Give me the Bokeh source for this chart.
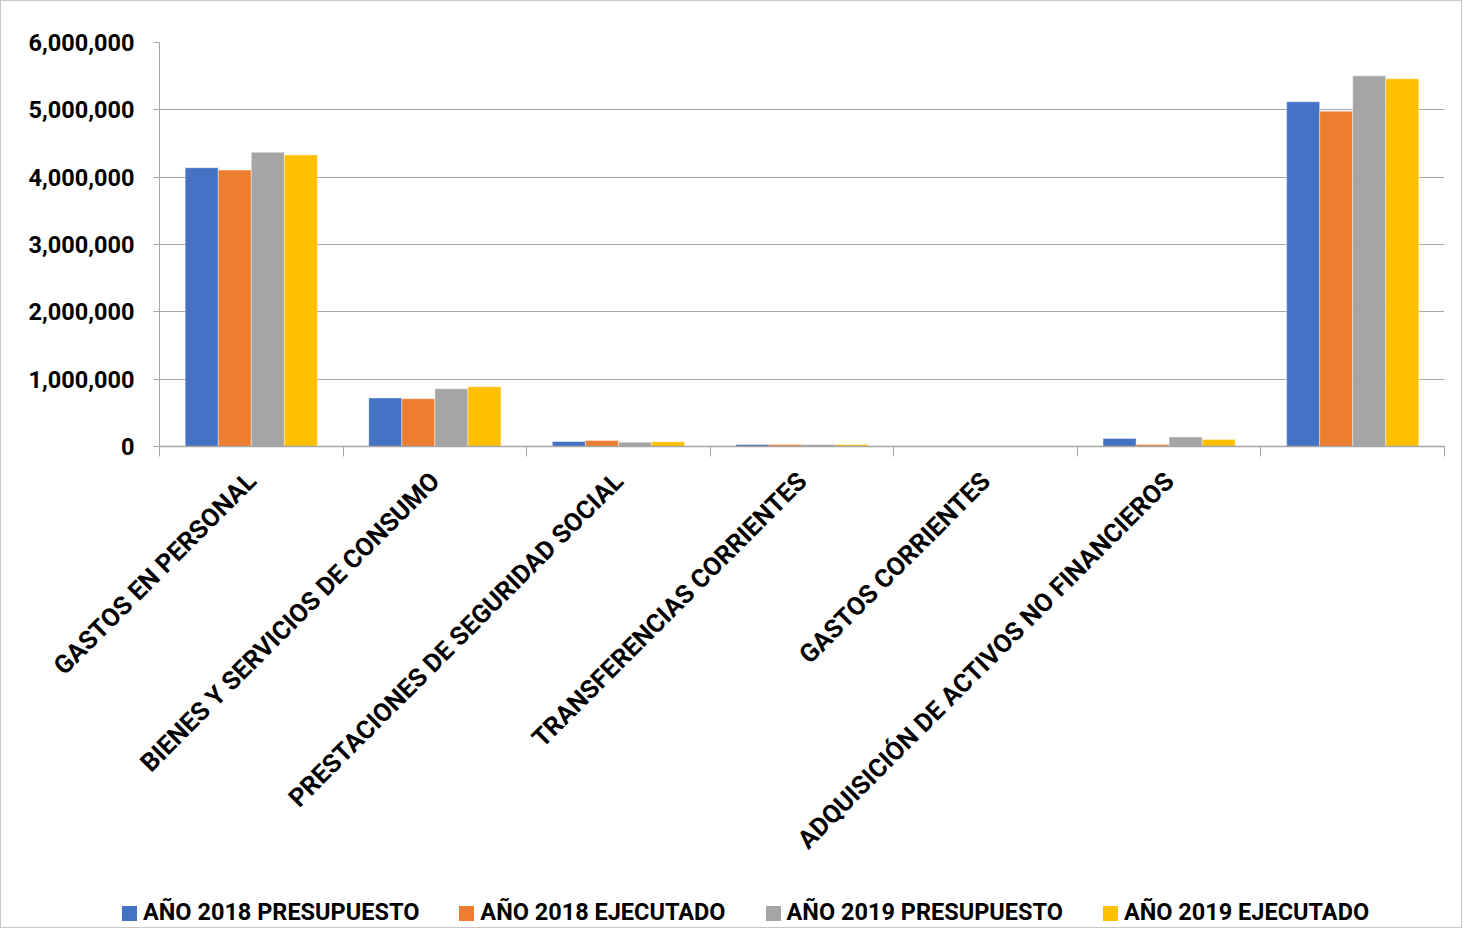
import numpy as np
from bokeh.plotting import figure
from bokeh.layouts import column
from bokeh.models import (ColumnDataSource, Range1d, FixedTicker, NumeralTickFormatter, Div)
from bokeh.transform import dodge
from bokeh.embed import file_html
from bokeh.resources import INLINE

categories = ["GASTOS EN PERSONAL", "BIENES Y SERVICIOS DE CONSUMO",
              "PRESTACIONES DE SEGURIDAD SOCIAL", "TRANSFERENCIAS CORRIENTES",
              "GASTOS CORRIENTES", "ADQUISICIÓN DE ACTIVOS NO FINANCIEROS", ""]
series_names = ["AÑO 2018 PRESUPUESTO", "AÑO 2018 EJECUTADO",
                "AÑO 2019 PRESUPUESTO", "AÑO 2019 EJECUTADO"]
p2018 = [4140000, 720000, 74000, 30000, 0, 119000, 5120000]
e2018 = [4105000, 710000, 89000, 30000, 0, 30000, 4980000]
p2019 = [4370000, 857000, 64000, 30000, 0, 140000, 5505000]
e2019 = [4330000, 887000, 70000, 30000, 0, 104000, 5460000]
y_ticks = [0, 1000000, 2000000, 3000000, 4000000, 5000000, 6000000]

colors = ["#4472C4", "#ED7D31", "#A5A5A5", "#FFC000"]
FONT = "Roboto"
FS = "23.5px"
FSX = "25.5px"

centers = list(np.arange(len(categories)) + 0.5)
bounds = list(np.arange(len(categories) + 1).astype(float))
src = ColumnDataSource(dict(x=centers, s0=p2018, s1=e2018, s2=p2019, s3=e2019))

p = figure(frame_width=1285, frame_height=404, output_backend="svg", toolbar_location=None,
           x_range=Range1d(0, len(categories)), y_range=Range1d(0, 6000000),
           min_border_left=158, min_border_right=17, min_border_top=41,
           min_border_bottom=0)
p.outline_line_color = None

offsets = [-0.27, -0.09, 0.09, 0.27]
for i, key in enumerate(["s0", "s1", "s2", "s3"]):
    p.vbar(x=dodge("x", offsets[i], range=p.x_range), top=key, width=0.18,
           source=src, fill_color=colors[i], line_color="white", line_alpha=0.4,
           line_width=1)

# x axis
xa = p.xaxis[0]
xa.ticker = FixedTicker(ticks=centers, minor_ticks=bounds)
xa.major_label_overrides = {c: name for c, name in zip(centers, categories)}
xa.major_tick_out = 0
xa.major_tick_in = 0
xa.minor_tick_out = 10
xa.minor_tick_in = 0
xa.minor_tick_line_color = "#a6a6a6"
xa.axis_line_color = "#a6a6a6"
xa.axis_line_width = 1.5
xa.major_label_orientation = np.pi / 4
xa.major_label_text_font = FONT
xa.major_label_text_font_style = "bold"
xa.major_label_text_font_size = FSX
xa.major_label_text_color = "black"
xa.major_label_standoff = 20

# y axis
ya = p.yaxis[0]
ya.ticker = FixedTicker(ticks=y_ticks)
ya.formatter = NumeralTickFormatter(format="0,0")
ya.major_tick_out = 6
ya.major_tick_in = 0
ya.minor_tick_line_color = None
ya.major_tick_line_color = "#a6a6a6"
ya.axis_line_color = "#a6a6a6"
ya.major_label_text_font = FONT
ya.major_label_text_font_style = "bold"
ya.major_label_text_font_size = FS
ya.major_label_text_color = "black"
ya.major_label_standoff = 19

p.xgrid.grid_line_color = None
p.ygrid.grid_line_color = "#a6a6a6"
p.ygrid.grid_line_width = 1.2
p.ygrid.ticker = FixedTicker(ticks=y_ticks)

# legend (HTML row below the chart)
items_html = "".join(
    f'<span style="display:inline-block;margin-right:40px;white-space:nowrap;">'
    f'<span style="display:inline-block;width:15px;height:15px;background:{c};'
    f'margin-right:6px;vertical-align:-1px;"></span>{n}</span>'
    for n, c in zip(series_names, colors))
legend_div = Div(
    text=f'<div style="padding-left:121px;font-family:{FONT};font-weight:bold;'
         f'font-size:{FS};line-height:30px;color:black;white-space:nowrap;">{items_html}</div>',
    width=1460, height=30, margin=(29, 0, 0, 0))

layout = column(p, legend_div, spacing=0,
                styles={"border": "1px solid #c8c8c8"})
open("out.html", "w").write(file_html(layout, INLINE))
